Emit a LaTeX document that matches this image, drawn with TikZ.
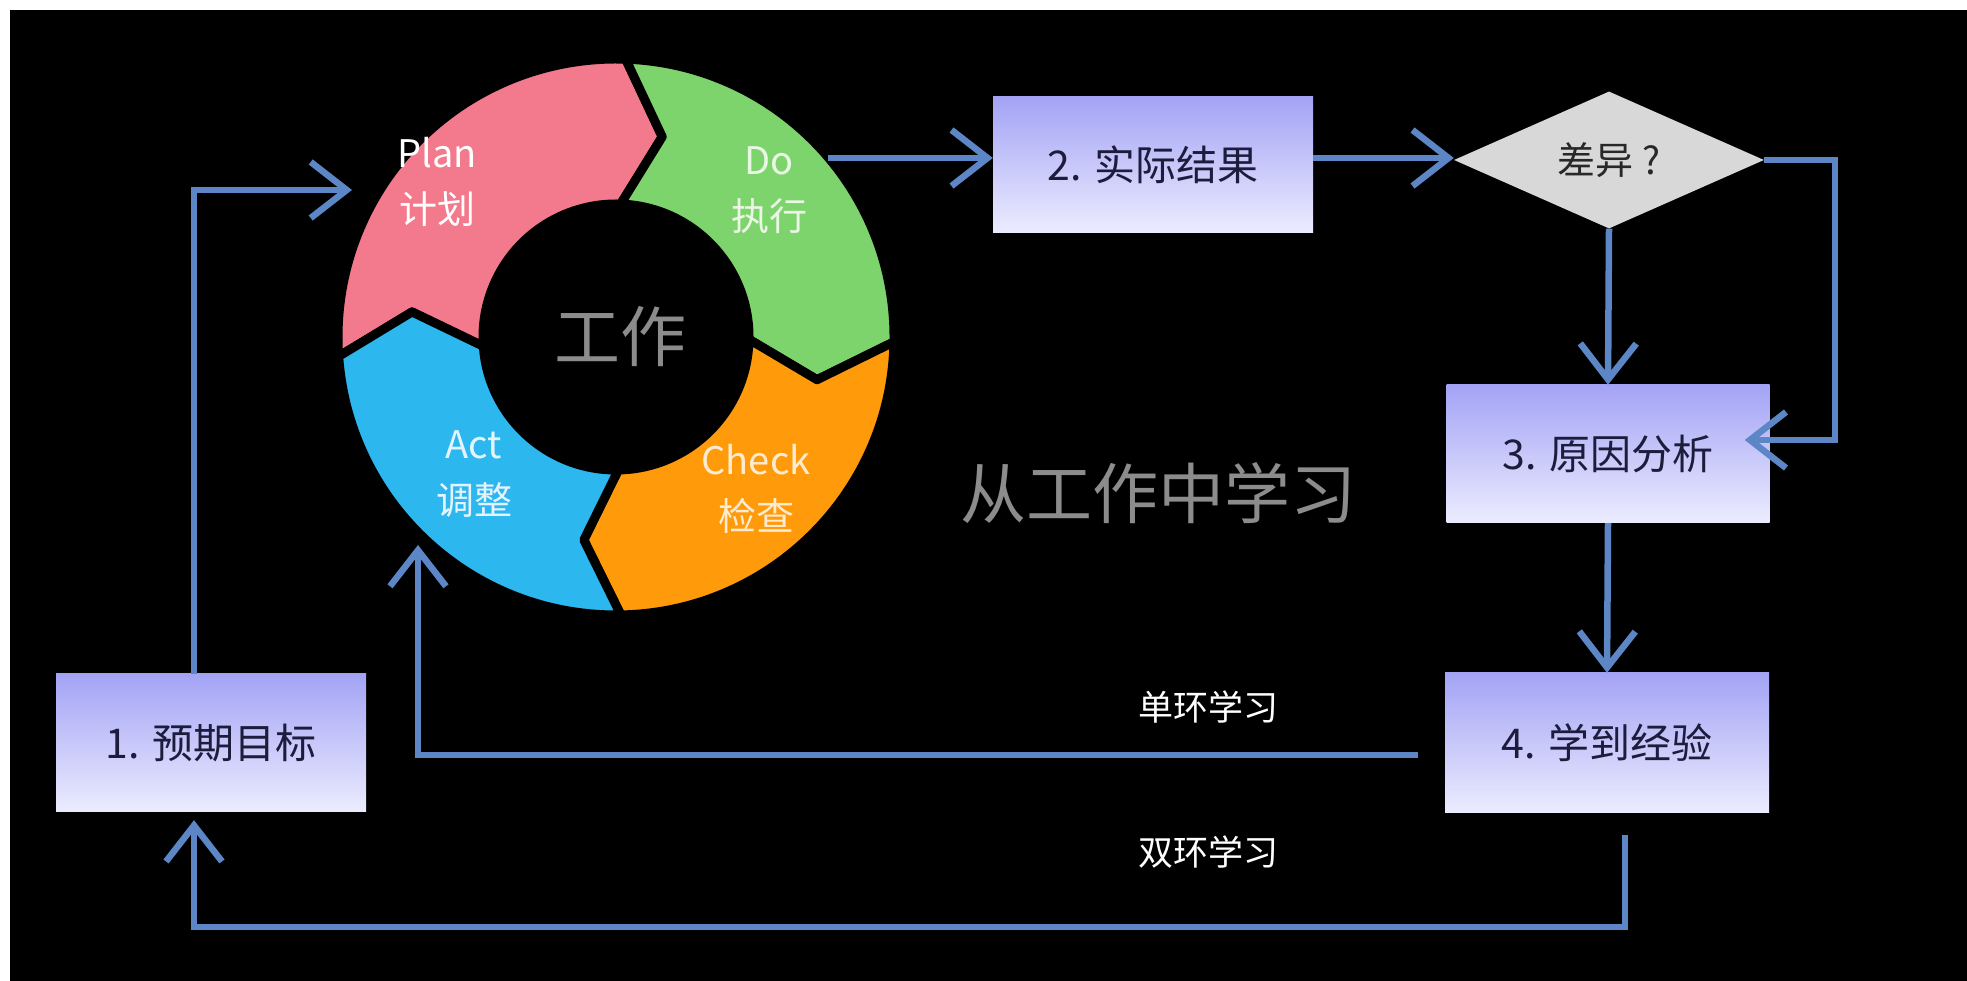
\documentclass[tikz,border=0pt]{standalone}
\usepackage{fontspec}
\setmainfont{Noto Sans CJK SC}
\usetikzlibrary{arrows.meta,shapes.geometric,calc}
\definecolor{plancol}{HTML}{F27A8C}
\definecolor{docol}{HTML}{7ED46C}
\definecolor{checkcol}{HTML}{FF9A0A}
\definecolor{actcol}{HTML}{2DB7EF}
\definecolor{linkcol}{HTML}{5C86C6}
\definecolor{boxtop}{HTML}{A3A3F5}
\definecolor{boxbot}{HTML}{ECECFF}
\definecolor{boxtext}{HTML}{1C1C3C}
\definecolor{diagray}{HTML}{D8D8D8}
\definecolor{worktext}{HTML}{8C8C8C}
\begin{document}
\begin{tikzpicture}[x=1pt,y=1pt,
  seg/.style={draw=black,line width=9pt,line join=round},
  lbl/.style={align=center,font=\fontsize{38}{56}\selectfont,inner sep=0pt},
  stepbox/.style={shading=axis,top color=boxtop,bottom color=boxbot,text=boxtext,
    font=\fontsize{41}{48}\selectfont,inner sep=0pt},
  link/.style={draw=linkcol,line width=6.5pt,line join=miter,
    -{Straight Barb[length=36pt,width=56pt]}},
  note/.style={text=white,font=\fontsize{35}{40}\selectfont,inner sep=0pt},
]
\useasboundingbox (0,0) rectangle (1967,980);
\fill[white] (-5,-5) rectangle (1972,985);
\fill[black] (10,-5) rectangle (1972,970);

% PDCA ring
\begin{scope}[shift={(616,643)}]
\filldraw[seg,fill=plancol] (184:278pt) arc[start angle=184,end angle=88,radius=278pt]
  -- (77:205.5pt) -- (88:133pt) arc[start angle=88,end angle=184,radius=133pt]
  -- (173:205.5pt) -- cycle;
\filldraw[seg,fill=docol] (88:278pt) arc[start angle=88,end angle=-1,radius=278pt]
  -- (-12:205.5pt) -- (-1:133pt) arc[start angle=-1,end angle=88,radius=133pt]
  -- (77:205.5pt) -- cycle;
\filldraw[seg,fill=checkcol] (-1:278pt) arc[start angle=-1,end angle=-89,radius=278pt]
  -- (-99:205.5pt) -- (-89:133pt) arc[start angle=-89,end angle=-1,radius=133pt]
  -- (-12:205.5pt) -- cycle;
\filldraw[seg,fill=actcol] (-89:278pt) arc[start angle=-89,end angle=-176,radius=278pt]
  -- (-187:205.5pt) -- (-176:133pt) arc[start angle=-176,end angle=-89,radius=133pt]
  -- (-99:205.5pt) -- cycle;
\end{scope}

\node[lbl,text=white] (plan) at (437,798) {Plan\\计划};
\node[lbl,text={rgb,255:red,234;green,247;blue,228}] (do) at (769,790) {Do\\执行};
\node[lbl,text={rgb,255:red,228;green,244;blue,255}] (act) at (474,506) {Act\\调整};
\node[lbl,text={rgb,255:red,255;green,235;blue,208}] (check) at (756,491) {Check\\检查};
\node[text=worktext,font=\fontsize{66}{70}\selectfont,inner sep=0pt] (work) at (620,643) {工作};

% boxes
\node[stepbox,minimum width=310pt,minimum height=138pt] (b1) at (211,237) {1. 预期目标};
\node[stepbox,minimum width=320pt,minimum height=136pt] (b2) at (1153,815) {2. 实际结果};
\node[stepbox,minimum width=323pt,minimum height=138pt] (b3) at (1608,526) {3. 原因分析};
\node[stepbox,minimum width=324pt,minimum height=140pt] (b4) at (1607,237) {4. 学到经验};
\node[diamond,fill=diagray,aspect=2.26,minimum width=310pt,minimum height=137pt,
  inner sep=0pt,text={rgb,255:red,40;green,40;blue,40},font=\fontsize{38}{42}\selectfont]
  (dm) at (1609,820) {差异 ?};

\node[text=worktext,font=\fontsize{66}{70}\selectfont,inner sep=0pt] (title) at (1158,487) {从工作中学习};
\node[note] (single) at (1208,273) {单环学习};
\node[note] (double) at (1208,128) {双环学习};

% connectors
\coordinate (plantip) at (352,790);
\coordinate (dostart) at (828,822);
\coordinate (s7) at ($(b4.west)+(-27,-12)$);
\coordinate (e7) at (418,435);
\draw[link] ($(b1.north)+(-17,0)$) |- (plantip);
\draw[link] (dostart) -- (dostart -| b2.west);
\draw[link] (dostart -| b2.east) -- (dostart -| dm.west);
\draw[link] (dm.south) -- (b3.north);
\draw[link,shorten >=-25pt] (dm.east) -- ++(71,0) |- ($(b3.east)+(0,14)$);
\draw[link] (b3.south) -- (b4.north);
\draw[link] (s7) -| (e7);
\draw[link,shorten >=8pt] ($(b4.south)+(18,-22)$) -- ++(0,-92) -| ($(b1.south)+(-17,0)$);
\end{tikzpicture}
\end{document}
